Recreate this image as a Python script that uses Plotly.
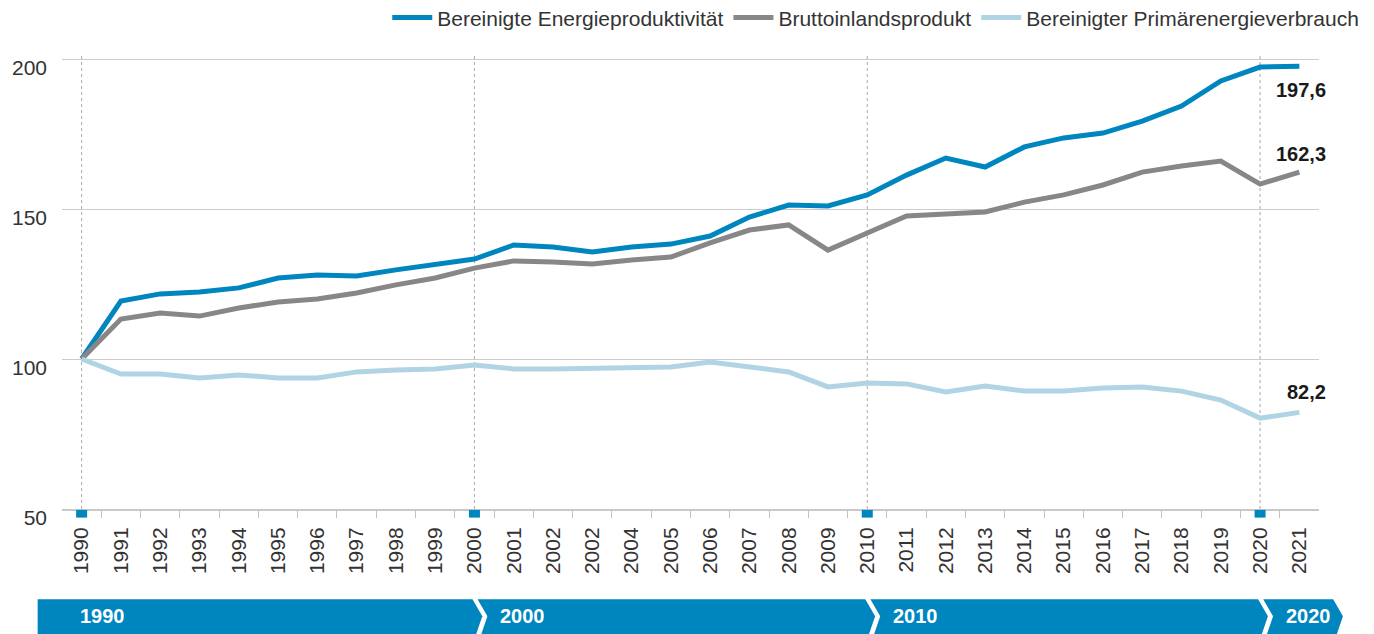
"""
Energieproduktivität, BIP und Primärenergieverbrauch, Index 1990 = 100.
"""
import plotly.graph_objects as go

YEAR_LABELS = [
    "1990", "1991", "1992", "1993", "1994", "1995", "1996", "1997", "1998", "1999",
    "2000", "2001", "2002", "2002", "2004", "2005", "2006", "2007", "2008", "2009",
    "2010", "2011", "2012", "2013", "2014", "2015", "2016", "2017", "2018", "2019",
    "2020", "2021",
]

ENERGIEPRODUKTIVITAET = [
    100.0, 119.3, 121.7, 122.3, 123.7, 127.0, 128.0, 127.7, 129.7, 131.3,
    133.3, 138.0, 137.3, 135.7, 137.3, 138.3, 141.0, 147.3, 151.3, 151.0,
    154.7, 161.3, 167.0, 164.0, 170.7, 173.7, 175.3, 179.3, 184.3, 192.7,
    197.3, 197.6,
]
BIP = [
    100.0, 113.3, 115.3, 114.3, 117.0, 119.0, 120.0, 122.0, 124.7, 127.0,
    130.3, 132.7, 132.3, 131.7, 133.0, 134.0, 138.7, 143.0, 144.7, 136.3,
    142.0, 147.7, 148.3, 149.0, 152.3, 154.7, 158.0, 162.3, 164.3, 166.0,
    158.3, 162.3,
]
PRIMAERENERGIE = [
    100.0, 95.0, 95.0, 93.7, 94.7, 93.7, 93.7, 95.7, 96.3, 96.7,
    98.0, 96.7, 96.7, 97.0, 97.0, 97.3, 99.0, 97.3, 95.7, 90.7,
    92.0, 91.7, 89.0, 91.0, 89.3, 89.3, 90.3, 90.7, 89.3, 86.3,
    80.3, 82.2,
]

SERIES_NAMES = [
    "Bereinigte Energieproduktivität",
    "Bruttoinlandsprodukt",
    "Bereinigter Primärenergieverbrauch",
]
END_LABELS = ["197,6", "162,3", "82,2"]
DECADE_LABELS = ["1990", "2000", "2010", "2020"]
Y_TICKS = [50, 100, 150, 200]

BLUE = "#0086BF"
GREY = "#878787"
LIGHT_BLUE = "#B0D4E3"
FONT = "Liberation Sans"

x = list(range(len(YEAR_LABELS)))
decade_idx = [i for i, lab in enumerate(YEAR_LABELS) if lab in DECADE_LABELS]


def to_paper(d):
    # category position -> paper fraction for range [-0.5, n - 0.5]
    return (d + 0.5) / len(x)


fig = go.Figure()

series = [ENERGIEPRODUKTIVITAET, BIP, PRIMAERENERGIE]
colours = [BLUE, GREY, LIGHT_BLUE]
label_shift = [-24, 18, 20]
for name, values, colour, lab, ys in zip(SERIES_NAMES, series, colours, END_LABELS, label_shift):
    fig.add_trace(go.Scatter(
        x=x, y=values, name=name, mode="lines",
        line=dict(color=colour, width=5),
    ))
    fig.add_annotation(
        x=x[-1], y=values[-1], text=f"<b>{lab}</b>", showarrow=False,
        xanchor="right", yanchor="middle", xshift=29, yshift=ys,
        font=dict(family=FONT, size=20, color="#1a1a1a"),
    )

# dotted decade lines and blue markers under the axis
for i in decade_idx:
    fig.add_shape(
        type="line", xref="x", yref="paper", x0=i, x1=i, y0=0, y1=1,
        line=dict(color="#a8a8a8", width=1, dash="dot"), layer="below",
    )
    fig.add_shape(
        type="rect", xref="x", yref="paper", x0=i - 0.14, x1=i + 0.14,
        y0=-0.019, y1=-0.002, fillcolor=BLUE, line_width=0,
    )

# decade band with chevrons (paper coords so it can run past the plot area)
y_top, y_bot = -0.199, -0.3
y_mid = -0.237
tip = 0.25 / len(x)
starts = [to_paper(-1.12)] + [to_paper(d + 0.08) for d in decade_idx[1:]]
ends = [to_paper(d - 0.05) for d in decade_idx[1:]] + [to_paper(x[-1] + 0.86)]
for k, (s, e) in enumerate(zip(starts, ends)):
    if k == 0:
        close = f"L {s},{y_bot} Z"
    else:
        close = f"L {s},{y_bot} L {s + tip},{y_mid} Z"
    path = (f"M {s},{y_top} L {e},{y_top} L {e + tip},{y_mid} "
            f"L {e},{y_bot} " + close)
    fig.add_shape(
        type="path", xref="paper", yref="paper", path=path,
        fillcolor=BLUE, line_width=0,
    )
    lab_x = -0.1 if k == 0 else decade_idx[k] + 0.6
    fig.add_annotation(
        x=to_paper(lab_x), y=y_mid, xref="paper", yref="paper",
        text=f"<b>{DECADE_LABELS[k]}</b>",
        showarrow=False, xanchor="left", yanchor="middle",
        font=dict(family=FONT, size=20, color="white"),
    )

fig.update_layout(
    width=1374, height=634,
    margin=dict(l=54, r=63, t=48, b=133, autoexpand=False),
    plot_bgcolor="white", paper_bgcolor="white",
    font=dict(family=FONT, color="#333333"),
    showlegend=True,
    legend=dict(
        orientation="h", x=1.036, xanchor="right", y=1.084, yanchor="middle",
        font=dict(size=21, color="#333333"), itemwidth=40,
        traceorder="normal",
    ),
    xaxis=dict(
        range=[-0.5, len(x) - 0.5],
        tickmode="array", tickvals=x, ticktext=YEAR_LABELS,
        tickangle=-90, ticks="", tickfont=dict(size=21, color="#333333"),
        ticklabelstandoff=8,
        showgrid=False, zeroline=False,
        showline=True, linecolor="#c8c8c8", linewidth=2,
        minor=dict(
            tickmode="array", tickvals=[i + 0.5 for i in x[:-1]],
            ticks="outside", ticklen=7, tickcolor="#c0c0c0", showgrid=False,
        ),
    ),
    yaxis=dict(
        range=[50, 201], tickmode="array", tickvals=Y_TICKS,
        tickfont=dict(size=21, color="#333333"),
        showgrid=True, gridcolor="#cccccc", gridwidth=1,
        zeroline=False, ticks="", ticklabelshift=9, ticklabelstandoff=14,
    ),
)

fig.write_html("out.html")
